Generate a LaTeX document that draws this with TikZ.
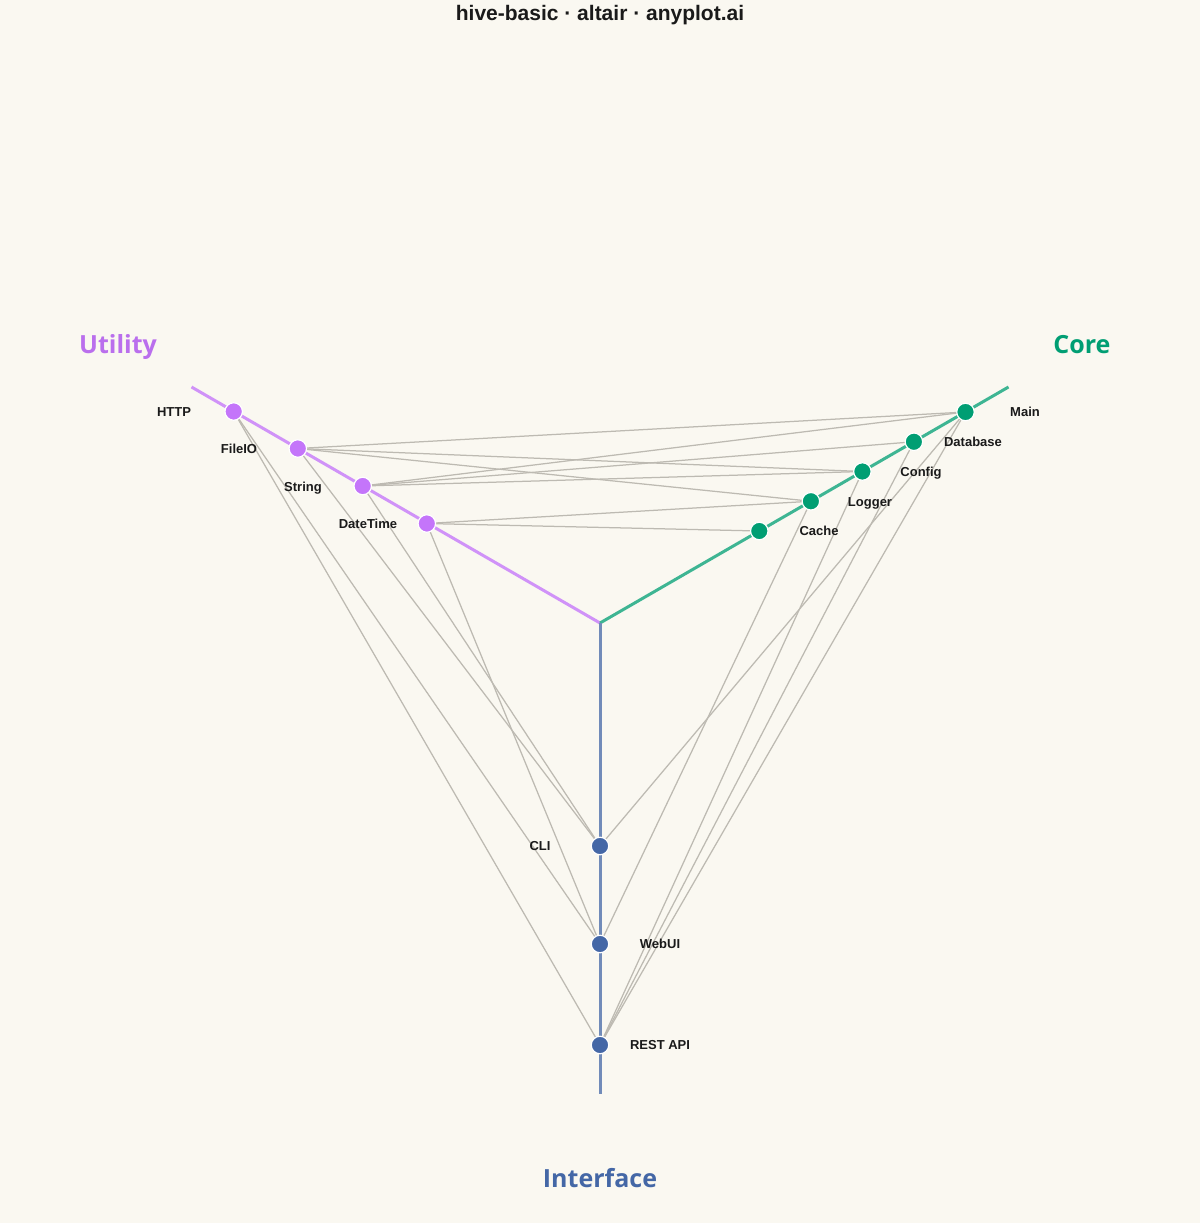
\documentclass[tikz,border=0pt]{standalone}
\usepackage{fontspec}
\setmainfont{Liberation Sans}
\newfontfamily\axisfont{Open Sans}
\definecolor{bgc}{HTML}{FAF8F1}
\definecolor{util}{HTML}{C475FA}
\definecolor{core}{HTML}{009E73}
\definecolor{intf}{HTML}{4467A6}
\definecolor{edgec}{HTML}{BDBAB2}
\definecolor{txt}{HTML}{1A1A1A}
\pgfdeclarelayer{paper}
\pgfdeclarelayer{axes}
\pgfdeclarelayer{edges}
\pgfsetlayers{paper,axes,edges,main}
\begin{document}
\begin{tikzpicture}[x=1pt,y=-1pt,
  nd/.style={circle,draw=white,line width=1.2pt,minimum size=17.5pt,inner sep=0pt},
  lbl/.style={font=\fontsize{13}{13}\selectfont\bfseries,text=txt,inner sep=0pt,anchor=base},
  axlbl/.style={font=\axisfont\fontsize{25}{25}\selectfont\bfseries,inner sep=0pt,anchor=base},
  link/.style={draw=edgec,line width=1.25pt},
  axisline/.style={line width=3pt}]
\useasboundingbox (0,0) rectangle (1200,1223);
\begin{pgfonlayer}{paper}
\fill[bgc] (0,0) rectangle (1200,1223);
\end{pgfonlayer}

% title
\node[font=\fontsize{21}{21}\selectfont\bfseries,text=txt,inner sep=0pt,anchor=base] (title) at (600,21) {hive-basic · altair · anyplot.ai};

% axes
\coordinate (O) at (600,623);
\coordinate (Uend) at (191.5,387);
\coordinate (Cend) at (1008.5,387);
\coordinate (Iend) at (600,1094);
\begin{pgfonlayer}{axes}
\draw[axisline,util!78!bgc] (O) -- (Uend);
\draw[axisline,core!75!bgc] (O) -- (Cend);
\draw[axisline,intf!75!bgc] (O) -- (Iend);
\end{pgfonlayer}

% nodes
\node[nd,fill=util] (HTTP) at (233.7,411.5) {};
\node[nd,fill=util] (FileIO) at (297.8,448.5) {};
\node[nd,fill=util] (String) at (362.7,486) {};
\node[nd,fill=util] (DateTime) at (426.8,523.5) {};
\node[nd,fill=core] (Main) at (965.5,412) {};
\node[nd,fill=core] (Database) at (913.9,441.75) {};
\node[nd,fill=core] (Config) at (862.4,471.5) {};
\node[nd,fill=core] (Logger) at (810.9,501.25) {};
\node[nd,fill=core] (Cache) at (759.3,531) {};
\node[nd,fill=intf] (CLI) at (600,846) {};
\node[nd,fill=intf] (WebUI) at (600,944) {};
\node[nd,fill=intf] (REST) at (600,1045) {};

% edges
\begin{pgfonlayer}{edges}
\draw[link] (FileIO.center) -- (Main.center);
\draw[link] (FileIO.center) -- (Config.center);
\draw[link] (FileIO.center) -- (Logger.center);
\draw[link] (String.center) -- (Main.center);
\draw[link] (String.center) -- (Database.center);
\draw[link] (String.center) -- (Config.center);
\draw[link] (DateTime.center) -- (Logger.center);
\draw[link] (DateTime.center) -- (Cache.center);
\draw[link] (HTTP.center) -- (WebUI.center);
\draw[link] (HTTP.center) -- (REST.center);
\draw[link] (FileIO.center) -- (CLI.center);
\draw[link] (String.center) -- (CLI.center);
\draw[link] (DateTime.center) -- (WebUI.center);
\draw[link] (Main.center) -- (CLI.center);
\draw[link] (Main.center) -- (REST.center);
\draw[link] (Database.center) -- (REST.center);
\draw[link] (Config.center) -- (REST.center);
\draw[link] (Logger.center) -- (WebUI.center);
\end{pgfonlayer}

% node labels
\node[lbl] (tHTTP) at (174,416) {HTTP};
\node[lbl] (tFileIO) at (239,453) {FileIO};
\node[lbl] (tString) at (303,491) {String};
\node[lbl] (tDateTime) at (368,528) {DateTime};
\node[lbl] (tMain) at (1025,416) {Main};
\node[lbl] (tDatabase) at (973,446) {Database};
\node[lbl] (tConfig) at (921,476) {Config};
\node[lbl] (tLogger) at (870,506) {Logger};
\node[lbl] (tCache) at (819,535) {Cache};
\node[lbl] (tCLI) at (540,850) {CLI};
\node[lbl] (tWebUI) at (660,948) {WebUI};
\node[lbl] (tREST) at (660,1049) {REST API};

% axis labels
\node[axlbl,text=util!95!black] (aU) at (118,353) {Utility};
\node[axlbl,text=core] (aC) at (1082,353) {Core};
\node[axlbl,text=intf] (aI) at (600,1187) {Interface};
\end{tikzpicture}
\end{document}
